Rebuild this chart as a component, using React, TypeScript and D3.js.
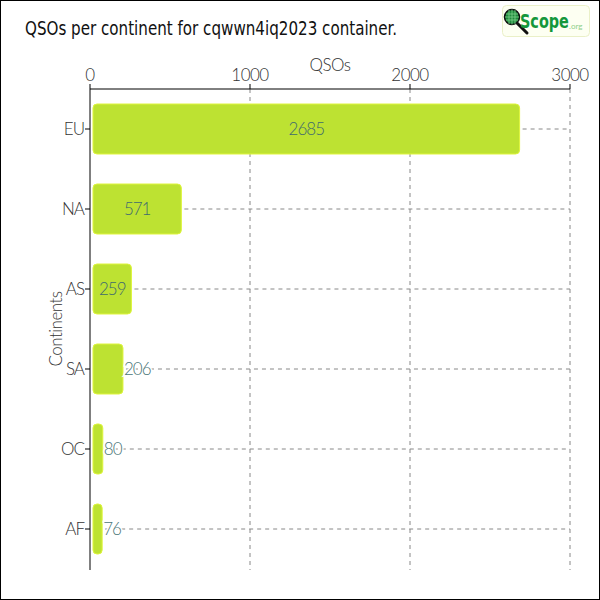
import React from "react";
import * as d3 from "d3";

const categories = ["EU", "NA", "AS", "SA", "OC", "AF"];
const values = [2685, 571, 259, 206, 80, 76];
const xTicks = [0, 1000, 2000, 3000];
const titleText = "QSOs per continent for cqwwn4iq2023 container.";
const xTitle = "QSOs";
const yTitle = "Continents";

const W = 600, H = 600;
const left = 90, right = 570, top = 89, bottom = 569;

export default function App() {
  React.useEffect(() => {
    document.body.style.margin = "0";
  }, []);
  const x = d3.scaleLinear().domain([0, 3000]).range([left, right]);
  const y = d3.scaleBand().domain(categories).range([top, bottom]).paddingInner(0.375).paddingOuter(0.1875);
  const bh = y.bandwidth();
  const font = "Lato, 'Open Sans', sans-serif";
  const barX0 = x(0) + 3;
  return (
    <svg width={W} height={H} style={{ display: "block" }}>
      <rect x={0.5} y={0.5} width={599} height={599} fill="white" stroke="black" strokeWidth={1} />
      <text x={25} y={35} fontFamily="'DejaVu Sans Condensed', 'DejaVu Sans', sans-serif" fontSize={19} fill="#111" textLength={372} lengthAdjust="spacingAndGlyphs">{titleText}</text>
      {/* logo */}
      <g>
        <rect x={502.5} y={5.5} width={87} height={31} rx={4} fill="#fdfff2" stroke="#eaf0c8" />
        <line x1={514} y1={20} x2={527} y2={33} stroke="#111" strokeWidth={3} strokeLinecap="round" />
        <circle cx={512} cy={17} r={7.5} fill="#1f8a3c" stroke="#111" strokeWidth={1.5} />
        <path d="M506,14 H518 M505,17 H519 M506,20 H518 M509,10 V24 M512,9.5 V24.5 M515,10 V24" stroke="#7fd08a" strokeWidth={0.8} />
        <text transform="translate(520,28) scale(0.8,1)" fontFamily="'DejaVu Sans Condensed', sans-serif" fontWeight="bold" fontSize={20} fill="#14973a">Scope</text>
        <text x={569} y={29} fontFamily={font} fontSize={8} fill="#8fcf8a">.org</text>
      </g>
      {/* vertical grid */}
      {xTicks.filter(t => t > 0).map(t => (
        <line key={"vg" + t} x1={x(t)} x2={x(t)} y1={top} y2={bottom + 1} stroke="#888" strokeDasharray="4,4" />
      ))}
      {/* horizontal grid */}
      {categories.map((c, i) => {
        const cy = (y(c) as number) + bh / 2;
        return <line key={"hg" + c} x1={x(values[i]) + 3} x2={right} y1={cy} y2={cy} stroke="#888" strokeDasharray="4,4" />;
      })}
      {/* bars */}
      {categories.map((c, i) => (
        <rect key={"b" + c} x={barX0} y={y(c) as number} width={Math.max(0, x(values[i]) - barX0)} height={bh} rx={4} fill="#bde232" stroke="#dff53c" strokeWidth={1} />
      ))}
      {/* labels */}
      {categories.map((c, i) => {
        const cy = (y(c) as number) + bh / 2;
        const w = x(values[i]) - barX0;
        const label = String(values[i]);
        const tw = label.length * 9;
        const inside = w > tw + 6;
        return (
          <text key={"l" + c} x={inside ? barX0 + w / 2 : x(values[i]) + 1} y={cy} dy="0.35em"
            textAnchor={inside ? "middle" : "start"} fontFamily={font} fontWeight={300} fontSize={17}
            fill={inside ? "#3f6b6e" : "#4a7677"} stroke={inside ? "none" : "white"} strokeWidth={3} paintOrder="stroke"
            letterSpacing={-1}>{label}</text>
        );
      })}
      {/* x axis */}
      <line x1={left} x2={right} y1={top} y2={top} stroke="black" />
      {xTicks.map(t => (
        <g key={"xt" + t}>
          <line x1={x(t)} x2={x(t)} y1={top} y2={top - 5} stroke="black" />
          <text x={x(t)} y={top - 8} textAnchor="middle" fontFamily={font} fontWeight={300} fontSize={17} fill="#333" letterSpacing={-0.5}>{t}</text>
        </g>
      ))}
      <text x={(left + right) / 2} y={71} textAnchor="middle" fontFamily={font} fontWeight={300} fontSize={17} fill="#333" letterSpacing={-0.5}>{xTitle}</text>
      {/* y axis */}
      <line x1={left} x2={left} y1={top} y2={bottom + 1} stroke="black" />
      {categories.map(c => {
        const cy = (y(c) as number) + bh / 2;
        return (
          <g key={"yt" + c}>
            <line x1={left - 5} x2={left} y1={cy} y2={cy} stroke="black" />
            <text x={left - 6} y={cy} dy="0.35em" textAnchor="end" fontFamily={font} fontWeight={300} fontSize={17} fill="#333" letterSpacing={-1}>{c}</text>
          </g>
        );
      })}
      <text transform={`translate(62,${(top + bottom) / 2}) rotate(-90)`} textAnchor="middle" fontFamily={font} fontWeight={300} fontSize={17} fill="#333" letterSpacing={-0.5}>{yTitle}</text>
    </svg>
  );
}
